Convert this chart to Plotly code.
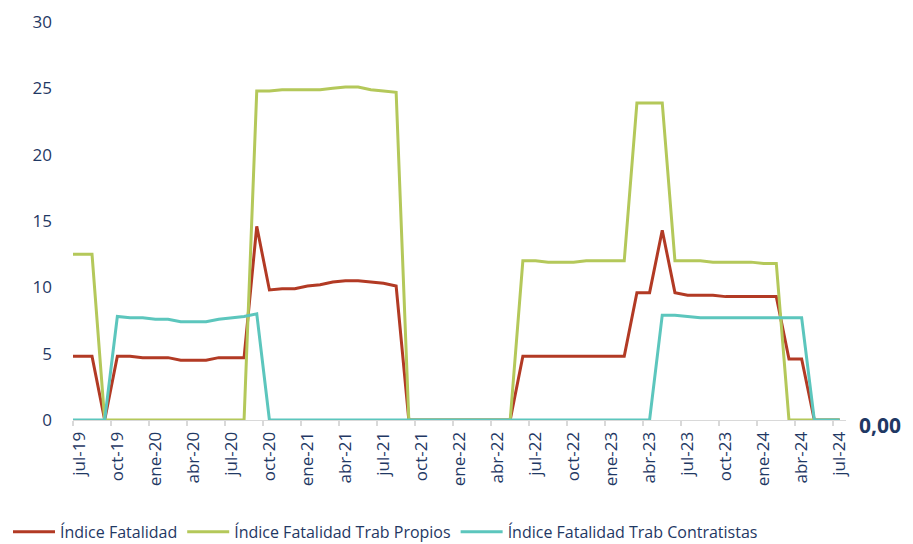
import plotly.graph_objects as go

# month labels (jun-19 is only there so the line runs into the left edge like the original)
MESES = ["ene", "feb", "mar", "abr", "may", "jun", "jul", "ago", "sep", "oct", "nov", "dic"]
meses = [f"{MESES[(5 + i) % 12]}-{19 + (5 + i) // 12}" for i in range(62)]
x_idx = list(range(-1, 61))

tick_pos = list(range(0, 61, 3))
tick_txt = [meses[i + 1] for i in tick_pos]

fatalidad = [4.8,
             4.8, 4.8, 0, 4.8, 4.8, 4.7, 4.7, 4.7, 4.5, 4.5, 4.5, 4.7, 4.7, 4.7,
             14.6, 9.8, 9.9, 9.9, 10.1, 10.2, 10.4, 10.5, 10.5, 10.4, 10.3, 10.1,
             0, 0, 0, 0, 0, 0, 0, 0, 0,
             4.8, 4.8, 4.8, 4.8, 4.8, 4.8, 4.8, 4.8, 4.8,
             9.6, 9.6, 14.3, 9.6, 9.4, 9.4, 9.4, 9.3, 9.3, 9.3, 9.3, 9.3,
             4.6, 4.6, 0, 0, 0]

propios = [12.5,
           12.5, 12.5, 0, 0, 0, 0, 0, 0, 0, 0, 0, 0, 0, 0,
           24.8, 24.8, 24.9, 24.9, 24.9, 24.9, 25.0, 25.1, 25.1, 24.9, 24.8, 24.7,
           0, 0, 0, 0, 0, 0, 0, 0, 0,
           12.0, 12.0, 11.9, 11.9, 11.9, 12.0, 12.0, 12.0, 12.0,
           23.9, 23.9, 23.9, 12.0, 12.0, 12.0, 11.9, 11.9, 11.9, 11.9, 11.8, 11.8,
           0, 0, 0, 0, 0]

contratistas = [0,
                0, 0, 0, 7.8, 7.7, 7.7, 7.6, 7.6, 7.4, 7.4, 7.4, 7.6, 7.7, 7.8,
                8.0, 0, 0, 0, 0, 0, 0, 0, 0, 0, 0, 0,
                0, 0, 0, 0, 0, 0, 0, 0, 0,
                0, 0, 0, 0, 0, 0, 0, 0, 0,
                0, 0, 7.9, 7.9, 7.8, 7.7, 7.7, 7.7, 7.7, 7.7, 7.7, 7.7,
                7.7, 7.7, 0, 0, 0]

NAVY = "#1F3864"
FONT = "Open Sans"

fig = go.Figure()
series = [
    ("Índice Fatalidad", fatalidad, "#B23A24"),
    ("Índice Fatalidad Trab Propios", propios, "#B4C85A"),
    ("Índice Fatalidad Trab Contratistas", contratistas, "#5CC6BD"),
]
for name, vals, col in series:
    fig.add_trace(go.Scatter(x=x_idx, y=vals, name=name, mode="lines",
                             line=dict(color=col, width=3)))

# data label on the last point
fig.add_annotation(x=60, y=contratistas[-1], text="<b>0,00</b>", showarrow=False,
                   xanchor="left", xshift=17, yshift=-5,
                   font=dict(family=FONT, size=21, color=NAVY))

# page body has an 8px margin, so the figure is 8px smaller than the window
fig.update_layout(
    width=905, height=536,
    margin=dict(l=65, r=67, t=14, b=124, autoexpand=False),
    plot_bgcolor="white", paper_bgcolor="white",
    font=dict(family=FONT, size=16, color=NAVY),
    showlegend=True,
    legend=dict(orientation="h", xref="container", yref="paper",
                x=0, y=-0.281, xanchor="left", yanchor="middle",
                font=dict(family=FONT, size=16, color=NAVY),
                itemwidth=42, tracegroupgap=0, borderwidth=0),
    xaxis=dict(range=[-0.5, 60.5], tickmode="array", tickvals=tick_pos, ticktext=tick_txt,
               tickangle=-90, ticks="", showgrid=False, zeroline=False,
               showline=True, linecolor="#D9D9D9", linewidth=1, ticklabelstandoff=4,
               tickfont=dict(family=FONT, size=17, color=NAVY),
               minor=dict(tick0=-0.5, dtick=3, ticks="outside", ticklen=5,
                          tickcolor="#D9D9D9", tickwidth=2, showgrid=False)),
    yaxis=dict(range=[0, 30], dtick=5, showgrid=False, zeroline=False, showline=False,
               ticks="", ticklabelstandoff=20,
               tickfont=dict(family=FONT, size=17, color=NAVY)),
)

fig.write_html("out.html")
